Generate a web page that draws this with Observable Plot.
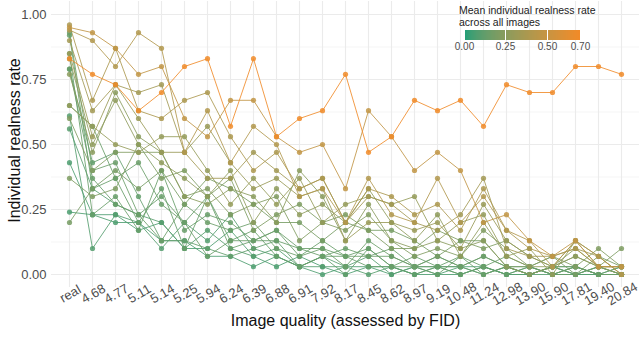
<!DOCTYPE html>
<html>
<head>
<meta charset="utf-8">
<script src="https://cdn.jsdelivr.net/npm/d3@7"></script>
<script src="https://cdn.jsdelivr.net/npm/@observablehq/plot@0.6"></script>
<style>
  html, body { margin: 0; padding: 0; background: #fff; }
  #wrap { position: relative; width: 642px; height: 338px; font-family: "Liberation Sans", Arial, sans-serif; }
  #legtitle { position: absolute; left: 459px; top: 4px; font-size: 10.5px; line-height: 12px; color: #222; }
  #leg { position: absolute; left: 456px; top: 28px; }
  #leg svg { overflow: visible; }
  #leg .tick line { stroke: #fff; stroke-width: 1; }
  #leg .tick text { fill: #4d4d4d; font-size: 10px; }
  #leg .domain { display: none; }
</style>
</head>
<body>
<div id="wrap">
  <div id="chart"></div>
  <div id="legtitle">Mean individual realness rate<br>across all images</div>
  <div id="leg"></div>
</div>
<script>
// Categories (image quality, FID)
const fidLabels = ["real","4.68","4.77","5.11","5.14","5.25","5.94","6.24","6.39","6.88","6.91","7.92","8.17","8.45","8.62","8.97","9.19","10.48","11.24","12.98","13.90","15.90","17.81","19.40","20.84"];

// Individual realness rate per image, one value per FID category
const img01 = [0.83,0.77,0.73,0.63,0.70,0.80,0.83,0.57,0.83,0.53,0.60,0.63,0.77,0.47,0.53,0.67,0.63,0.67,0.57,0.73,0.70,0.70,0.80,0.80,0.77];
const img02 = [0.95,0.93,0.87,0.77,0.80,0.60,0.53,0.67,0.67,0.53,0.47,0.50,0.33,0.63,0.53,0.40,0.47,0.40,0.20,0.23,0.13,0.07,0.13,0.03,0.03];
const img03 = [0.94,0.90,0.80,0.93,0.87,0.47,0.63,0.43,0.57,0.50,0.30,0.33,0.20,0.37,0.23,0.20,0.37,0.20,0.30,0.17,0.13,0.03,0.13,0.07,0.00];
const img04 = [0.96,0.67,0.87,0.63,0.60,0.67,0.70,0.53,0.40,0.47,0.33,0.37,0.20,0.33,0.30,0.23,0.27,0.17,0.33,0.17,0.10,0.07,0.10,0.03,0.03];
const img05 = [0.90,0.63,0.73,0.70,0.73,0.47,0.37,0.37,0.47,0.40,0.33,0.37,0.20,0.30,0.27,0.20,0.17,0.23,0.37,0.10,0.07,0.07,0.10,0.07,0.00];
const img06 = [0.85,0.53,0.73,0.60,0.47,0.47,0.57,0.43,0.33,0.37,0.30,0.33,0.13,0.20,0.20,0.17,0.20,0.10,0.27,0.13,0.07,0.03,0.13,0.03,0.03];
const img07 = [0.83,0.50,0.67,0.50,0.43,0.37,0.30,0.40,0.20,0.33,0.23,0.27,0.20,0.33,0.20,0.13,0.23,0.07,0.20,0.07,0.03,0.03,0.07,0.03,0.00];
const img08 = [0.77,0.47,0.70,0.53,0.47,0.30,0.27,0.33,0.30,0.20,0.40,0.30,0.13,0.27,0.13,0.10,0.13,0.10,0.13,0.03,0.00,0.03,0.10,0.03,0.03];
const img09 = [0.65,0.57,0.50,0.47,0.53,0.53,0.40,0.27,0.37,0.27,0.37,0.20,0.27,0.30,0.27,0.30,0.13,0.20,0.23,0.07,0.10,0.00,0.13,0.07,0.00];
const img10 = [0.60,0.40,0.47,0.47,0.47,0.30,0.33,0.23,0.27,0.30,0.13,0.20,0.17,0.23,0.13,0.07,0.10,0.07,0.17,0.10,0.03,0.07,0.03,0.10,0.03];
const img11 = [0.37,0.30,0.33,0.50,0.37,0.40,0.30,0.37,0.17,0.23,0.27,0.20,0.23,0.17,0.10,0.10,0.17,0.13,0.10,0.13,0.07,0.03,0.07,0.03,0.10];
const img12 = [0.20,0.33,0.40,0.33,0.40,0.27,0.37,0.33,0.27,0.20,0.20,0.13,0.20,0.17,0.17,0.13,0.07,0.13,0.13,0.03,0.03,0.07,0.00,0.07,0.03];
const img13 = [0.93,0.40,0.43,0.23,0.13,0.27,0.20,0.17,0.20,0.10,0.07,0.10,0.03,0.13,0.07,0.03,0.07,0.03,0.07,0.03,0.00,0.03,0.00,0.03,0.00];
const img14 = [0.92,0.33,0.37,0.20,0.33,0.10,0.30,0.13,0.17,0.07,0.03,0.07,0.07,0.03,0.03,0.07,0.03,0.07,0.03,0.00,0.03,0.00,0.03,0.00,0.00];
const img15 = [0.85,0.23,0.30,0.17,0.40,0.17,0.23,0.20,0.13,0.13,0.10,0.07,0.10,0.07,0.10,0.03,0.00,0.07,0.00,0.03,0.00,0.03,0.03,0.00,0.03];
const img16 = [0.79,0.37,0.27,0.23,0.30,0.20,0.30,0.10,0.13,0.17,0.07,0.13,0.07,0.10,0.03,0.03,0.03,0.00,0.03,0.07,0.03,0.00,0.00,0.03,0.00];
const img17 = [0.61,0.10,0.23,0.20,0.10,0.20,0.13,0.23,0.10,0.07,0.03,0.03,0.03,0.07,0.00,0.03,0.03,0.00,0.03,0.00,0.00,0.03,0.00,0.00,0.00];
const img18 = [0.56,0.33,0.27,0.23,0.20,0.10,0.17,0.10,0.07,0.10,0.03,0.07,0.03,0.00,0.03,0.00,0.03,0.03,0.00,0.03,0.00,0.00,0.03,0.00,0.00];
const img19 = [0.43,0.23,0.20,0.20,0.13,0.13,0.07,0.07,0.03,0.07,0.03,0.00,0.03,0.03,0.00,0.03,0.00,0.03,0.03,0.00,0.03,0.00,0.00,0.03,0.00];
const img20 = [0.24,0.23,0.23,0.17,0.20,0.10,0.10,0.17,0.07,0.03,0.07,0.03,0.00,0.03,0.03,0.00,0.00,0.00,0.03,0.00,0.00,0.03,0.00,0.00,0.03];
const img21 = [0.79,0.43,0.47,0.30,0.13,0.13,0.10,0.07,0.10,0.13,0.03,0.07,0.00,0.10,0.03,0.00,0.03,0.03,0.00,0.03,0.00,0.03,0.03,0.00,0.00];
const img22 = [0.65,0.57,0.37,0.43,0.27,0.20,0.07,0.13,0.13,0.17,0.10,0.10,0.07,0.07,0.07,0.03,0.07,0.03,0.07,0.03,0.03,0.00,0.03,0.00,0.00];

const images = [img01,img02,img03,img04,img05,img06,img07,img08,img09,img10,img11,img12,img13,img14,img15,img16,img17,img18,img19,img20,img21,img22];

const yMajor = [0, 0.25, 0.5, 0.75, 1];
const yMinor = [0.125, 0.375, 0.625, 0.875];
const legendTicks = [0, 0.25, 0.5, 0.7];
const colorLow = "#1b9e77";
const colorHigh = "#f28a27";

// long format, series ordered by mean so the highest is drawn last
const series = images.map((vals, i) => ({id: i, vals, mean: d3.mean(vals)}))
  .sort((a, b) => a.mean - b.mean);
const rows = [];
for (const s of series) {
  s.vals.forEach((v, j) => rows.push({img: s.id, fid: fidLabels[j], rate: v, mean: s.mean}));
}

const colorScale = {type: "linear", domain: [0, 0.7], range: [colorLow, colorHigh], interpolate: "lab"};

const chart = Plot.plot({
  width: 642,
  height: 338,
  marginLeft: 51,
  marginRight: 3,
  marginTop: 1,
  marginBottom: 51,
  style: {fontFamily: "Liberation Sans, Arial, sans-serif", background: "#fff"},
  x: {type: "point", domain: fidLabels, padding: 0.6, axis: null},
  y: {domain: [-0.05, 1.05], axis: null},
  color: colorScale,
  marks: [
    Plot.ruleY(yMinor, {stroke: "#f3f3f3", strokeWidth: 0.8}),
    Plot.ruleY(yMajor, {stroke: "#ebebeb", strokeWidth: 1.1}),
    Plot.ruleX(fidLabels, {stroke: "#ebebeb", strokeWidth: 1.1}),
    Plot.axisY(yMajor, {tickSize: 0, tickPadding: 5, tickFormat: d => d.toFixed(2), fontSize: 13, color: "#4d4d4d", label: null}),
    Plot.text(fidLabels, {x: d => d, text: d => d, frameAnchor: "bottom", textAnchor: "middle", dy: 10, dx: 3, rotate: -30, fontSize: 13, fill: "#4d4d4d"}),
    Plot.line(rows, {x: "fid", y: "rate", z: "img", stroke: "mean", strokeWidth: 1, strokeOpacity: 0.85}),
    Plot.dot(rows, {x: "fid", y: "rate", fill: "mean", r: 2.6, fillOpacity: 0.85}),
    Plot.text(["Individual realness rate"], {frameAnchor: "left", textAnchor: "middle", dx: -37, dy: -4, rotate: -90, fontSize: 16, fill: "#111"}),
    Plot.text(["Image quality (assessed by FID)"], {frameAnchor: "bottom", textAnchor: "middle", dy: 38, fontSize: 16, fill: "#111"})
  ]
});
document.getElementById("chart").appendChild(chart);

const leg = Plot.legend({
  color: {...colorScale, label: null, ticks: legendTicks, tickFormat: d => d.toFixed(2)},
  ticks: legendTicks,
  tickFormat: d => d.toFixed(2),
  label: null,
  width: 134,
  height: 28,
  marginTop: 2,
  marginBottom: 16,
  marginLeft: 8,
  marginRight: 10,
  tickSize: 0,
  style: {fontFamily: "Liberation Sans, Arial, sans-serif", fontSize: "10px", background: "transparent"}
});
document.getElementById("leg").appendChild(leg);
</script>
</body>
</html>
